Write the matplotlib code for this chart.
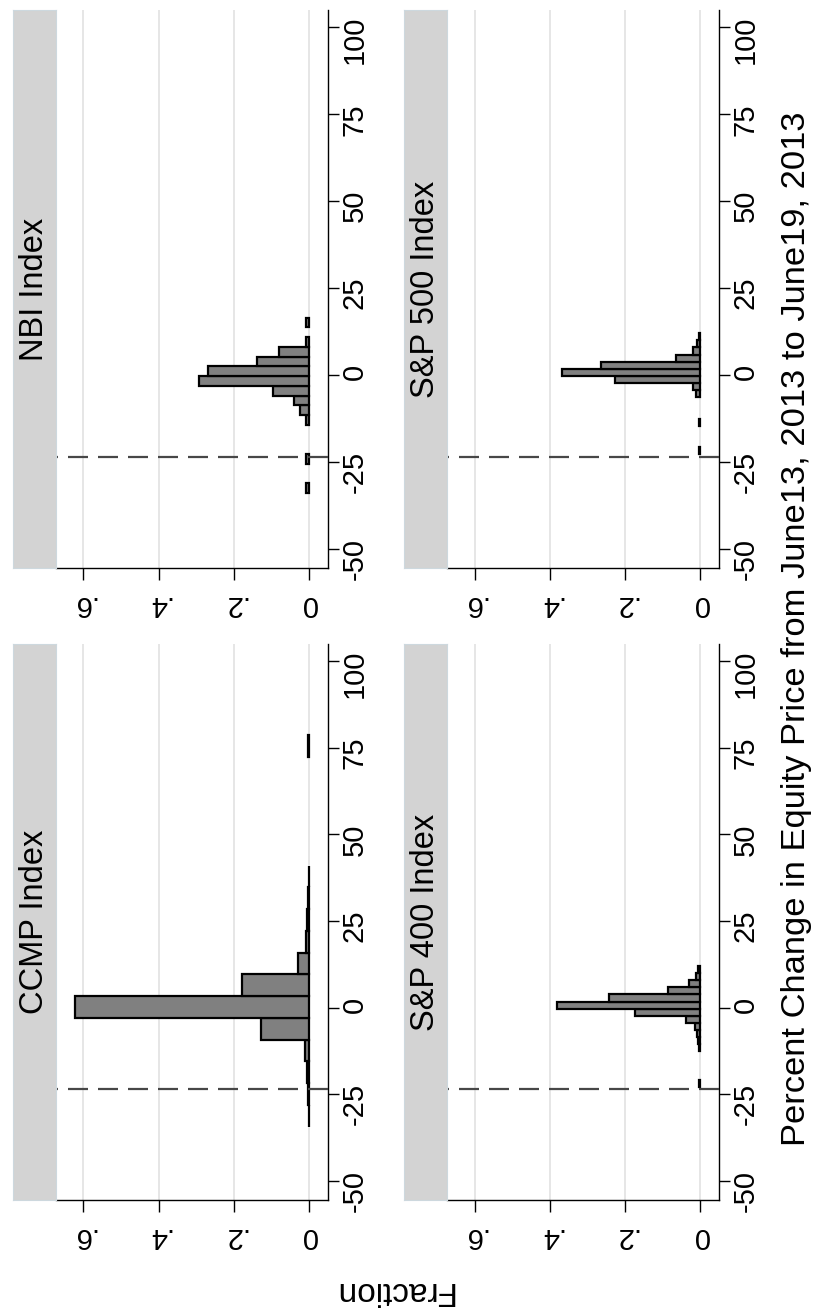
import matplotlib.pyplot as plt
import numpy as np

plt.rcParams['font.family'] = ['Liberation Sans', 'DejaVu Sans']

# histogram of percent change, one panel per index
# each panel: lower edge of first bin, bin width, fraction in each bin
nbi_start = -33.92
nbi_width = 2.8
nbi_frac = [0.010, 0, 0, 0.010, 0, 0, 0, 0.010, 0.024, 0.040, 0.096,
            0.292, 0.268, 0.139, 0.080, 0.010, 0, 0.010]

sp500_start = -22.85
sp500_width = 2.05
sp500_frac = [0.004, 0, 0, 0, 0.004, 0, 0, 0, 0.011, 0.019, 0.228,
              0.368, 0.265, 0.065, 0.019, 0.008, 0.004]

ccmp_start = -34.3
ccmp_width = 6.27
ccmp_frac = [0.002, 0.003, 0.006, 0.012, 0.128, 0.622, 0.180, 0.030,
             0.008, 0.005, 0.003, 0.002, 0, 0, 0, 0, 0, 0.003]

sp400_start = -22.85
sp400_width = 2.05
sp400_frac = [0.003, 0, 0, 0, 0, 0.003, 0.005, 0.009, 0.015, 0.039, 0.173,
              0.382, 0.242, 0.087, 0.029, 0.012, 0.005]

cutoff = -23.6

panel_names = ['NBI Index', 'S&P 500 Index', 'CCMP Index', 'S&P 400 Index']
panel_data = [(nbi_start, nbi_width, nbi_frac),
              (sp500_start, sp500_width, sp500_frac),
              (ccmp_start, ccmp_width, ccmp_frac),
              (sp400_start, sp400_width, sp400_frac)]

frac_ticks = [0, 0.2, 0.4, 0.6]
frac_labels = ['0', '.2', '.4', '.6']
pct_ticks = [-50, -25, 0, 25, 50, 75, 100]
pct_labels = ['-50', '-25', '0', '25', '50', '75', '100']

W, H = 815, 1313


def box(x0, y0, x1, y1):
    # pixel box (top-left origin) -> figure coords
    return [x0 / W, 1 - y1 / H, (x1 - x0) / W, (y1 - y0) / H]


fig = plt.figure(figsize=(W / 100, H / 100), dpi=100)

# (strip left, plot left, plot right) and (top, bottom) in pixels
cols = [(13, 56, 328.3), (404, 447.3, 719.3)]
rows = [(10, 568), (644, 1200)]

for i, (name, (start, width, frac)) in enumerate(zip(panel_names, panel_data)):
    sx0, px0, px1 = cols[i % 2]
    y0, y1 = rows[i // 2]

    ax = fig.add_axes(box(px0, y0, px1, y1))
    ax.set_xlim(0.673, -0.0505)
    ax.set_ylim(-55.5, 104.9)

    for g in frac_ticks:
        ax.axvline(g, color='#e2e2e2', lw=1.2, zorder=0)

    frac = np.array(frac)
    centers = start + width * (np.arange(len(frac)) + 0.5)
    keep = frac > 0
    ax.barh(centers[keep], frac[keep], height=width, left=0,
            color='#808080', edgecolor='black', linewidth=1.6, zorder=2)

    # dashed reference line, drawn from the axis outward
    ax.plot([-0.0505, 0.673], [cutoff, cutoff], color='#474747', lw=1.6,
            dashes=(9, 4.5), zorder=3)

    for side in ['top', 'left']:
        ax.spines[side].set_visible(False)
    for side in ['bottom', 'right']:
        ax.spines[side].set_linewidth(1.0)

    ax.set_xticks(frac_ticks)
    ax.set_xticklabels(frac_labels)
    ax.yaxis.tick_right()
    ax.set_yticks(pct_ticks)
    ax.set_yticklabels(pct_labels)
    ax.tick_params(axis='x', length=8.5, width=1.0, labelsize=21,
                   labelrotation=180, pad=7)
    ax.tick_params(axis='y', length=8, width=1.0, labelsize=21,
                   labelrotation=90, pad=1)

    sax = fig.add_axes(box(sx0, y0, px0, y1))
    sax.set_facecolor('#d3d3d3')
    sax.set_xticks([])
    sax.set_yticks([])
    for sp in sax.spines.values():
        sp.set_color('#cdd8de')
        sp.set_linewidth(0.8)
    sax.text(0.5, 0.5, name, rotation=90, ha='center', va='center',
             fontsize=23.5, transform=sax.transAxes)

fig.text(797 / W, 1 - 629 / H,
         'Percent Change in Equity Price from June13, 2013 to June19, 2013',
         rotation=90, ha='center', va='center', fontsize=24.8)
fig.text(393 / W, 1 - 1290 / H, 'Fraction', rotation=180,
         ha='center', va='center', fontsize=24)

fig.savefig('out.png', dpi=100)
